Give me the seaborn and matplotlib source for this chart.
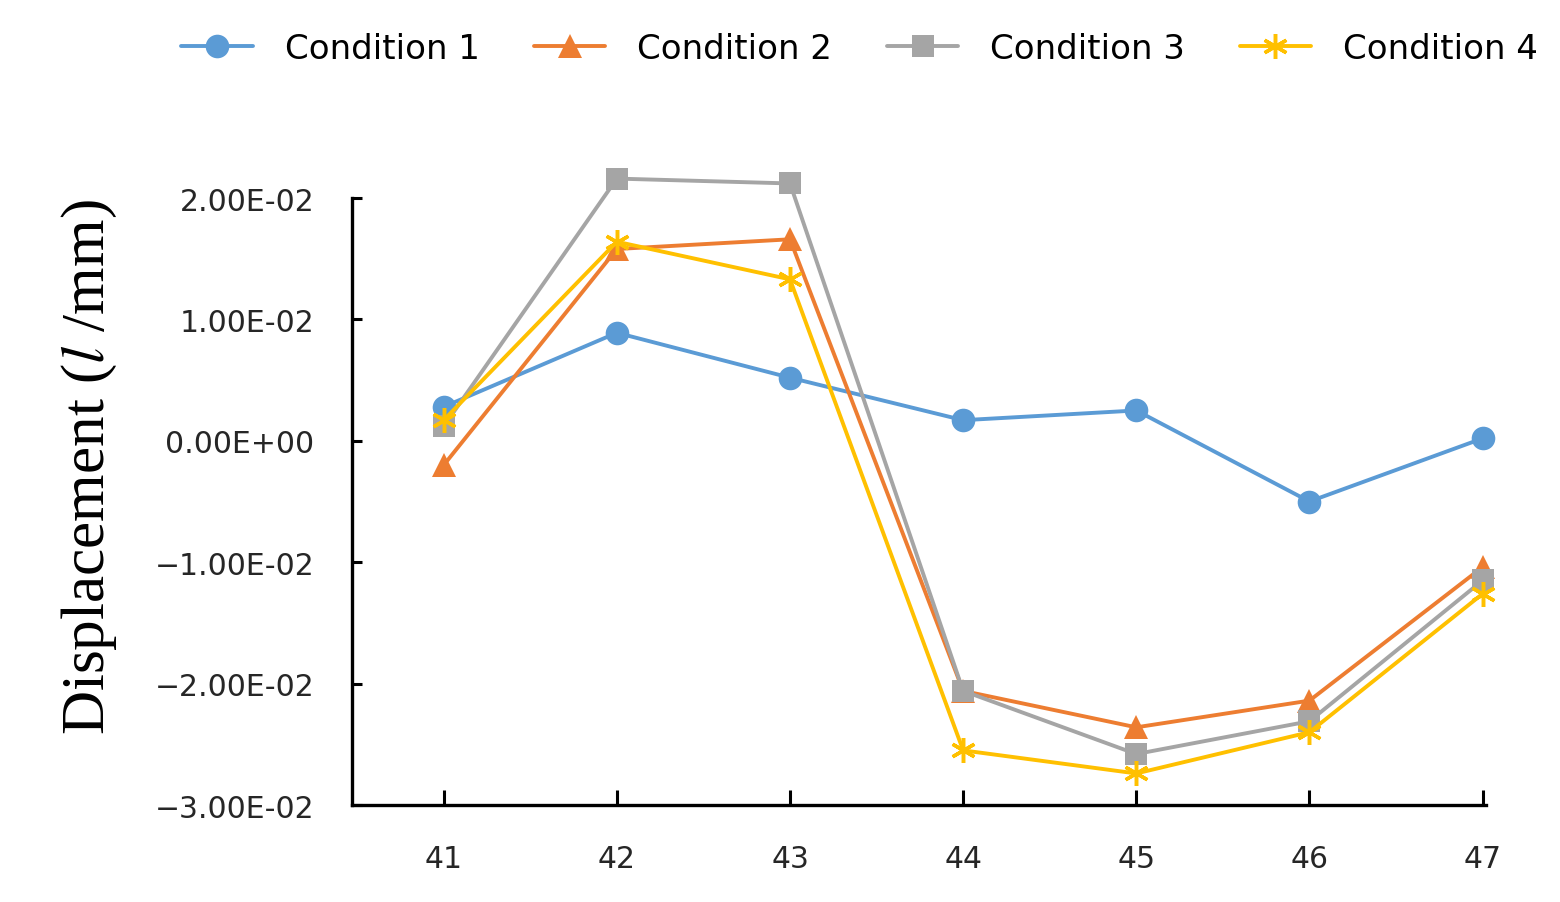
import numpy as np
import matplotlib
matplotlib.use("Agg")
import matplotlib.pyplot as plt
import seaborn as sns
from matplotlib.lines import Line2D

# data
positions = [41, 42, 43, 44, 45, 46, 47]
cond1 = [0.0028, 0.0089, 0.0052, 0.0017, 0.0025, -0.0050, 0.0002]
cond2 = [-0.0020, 0.0158, 0.0166, -0.0206, -0.0236, -0.0214, -0.0104]
cond3 = [0.0012, 0.0216, 0.0212, -0.0206, -0.0258, -0.0231, -0.0115]
cond4 = [0.0017, 0.0164, 0.0133, -0.0255, -0.0274, -0.0240, -0.0126]
series_names = ["Condition 1", "Condition 2", "Condition 3", "Condition 4"]
yticks = [0.02, 0.01, 0.0, -0.01, -0.02, -0.03]
ytick_labels = ["2.00E-02", "1.00E-02", "0.00E+00", "\u22121.00E-02", "\u22122.00E-02", "\u22123.00E-02"]

colors = ["#5B9BD5", "#ED7D31", "#A5A5A5", "#FFC000"]
markers = ["o", "^", "s", (6, 2, 0)]
msizes = [17, 17, 16, 18]

sns.set_style("white")
plt.rcParams["font.family"] = ["DejaVu Sans"]
plt.rcParams["mathtext.fontset"] = "stix"
plt.rcParams["xtick.direction"] = "in"
plt.rcParams["ytick.direction"] = "in"

fig = plt.figure(figsize=(15.6, 9.03), dpi=100)
ax = fig.add_axes([0.2256, 0.1074, 0.9526 - 0.2256, 0.7796 - 0.1074])

handles = []
for vals, name, c, m, ms in zip([cond1, cond2, cond3, cond4], series_names, colors, markers, msizes):
    mew = 2.5 if m == (6, 2, 0) else 0
    sns.lineplot(x=positions, y=vals, ax=ax, color=c, marker=m, markersize=ms,
                 linewidth=2.8, markeredgecolor=c, markeredgewidth=mew,
                 clip_on=False, legend=False)
    handles.append(Line2D([], [], color=c, marker=m, markersize=ms, linewidth=2.8,
                          markeredgecolor=c, markeredgewidth=mew))

for ln in ax.lines:
    ln.set_clip_on(False)

ax.set_xlim(40.47, 47.02)
ax.set_ylim(-0.03, 0.02)
ax.set_xticks(positions)
ax.set_xticklabels([str(p) for p in positions])
ax.set_yticks(yticks)
ax.set_yticklabels(ytick_labels)
ax.tick_params(axis="both", which="major", direction="in", labelsize=21.5, colors="black",
               width=2.2, bottom=True, left=True)
ax.tick_params(axis="x", pad=28, length=11)
ax.tick_params(axis="y", pad=27, length=7)
for lab in ax.get_xticklabels() + ax.get_yticklabels():
    lab.set_color("#262626")

for side in ["top", "right"]:
    ax.spines[side].set_visible(False)
for side in ["left", "bottom"]:
    ax.spines[side].set_color("black")
    ax.spines[side].set_linewidth(2.4)

ax.set_ylabel("Displacement ($\\mathit{l}$ /mm)", family="Liberation Serif", fontsize=44, color="black")
ax.yaxis.set_label_coords(-0.205, 0.558)

leg = fig.legend(handles, series_names, loc="center", bbox_to_anchor=(0.551, 0.945), ncol=4,
                 frameon=False, fontsize=24.5, handlelength=2.1, columnspacing=1.6, handletextpad=0.94)
for t in leg.get_texts():
    t.set_color("black")

fig.savefig("out.png", dpi=100)
